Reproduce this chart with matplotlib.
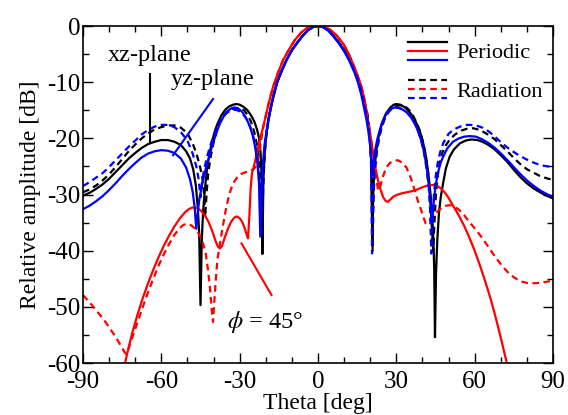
import matplotlib
matplotlib.use("Agg")
import matplotlib.pyplot as plt
from matplotlib.legend_handler import HandlerBase
from matplotlib.lines import Line2D
from matplotlib.ticker import MultipleLocator

plt.rcParams['font.family'] = ['Liberation Serif', 'DejaVu Serif']
plt.rcParams['mathtext.fontset'] = 'stix'
plt.rcParams['axes.unicode_minus'] = False

# (theta [deg], relative amplitude [dB])
xz_periodic = [
    (-90, -30.2), (-87.5, -29.7), (-85, -29.0), (-82.5, -28.2), (-80, -27.2),
    (-77.5, -26.0), (-75, -24.8), (-72.5, -23.6), (-70, -22.6), (-67.5, -21.7),
    (-65, -21.0), (-62.5, -20.6), (-60, -20.3), (-57.5, -20.3), (-55, -20.6),
    (-52.5, -21.2), (-50.5, -22.3), (-49, -23.6), (-47.8, -25.5), (-46.8, -28.3),
    (-46, -32.5), (-45.5, -37), (-45.0, -49.7), (-44.5, -38), (-44, -33),
    (-43.3, -29), (-42.5, -25.5), (-41.5, -22.6), (-40.5, -20.4), (-39.5, -18.7),
    (-38.5, -17.4), (-37, -15.9), (-35.5, -14.9), (-34, -14.3), (-32.5, -14.0),
    (-31.3, -13.9), (-30, -14.0), (-28.5, -14.4), (-27, -15.0), (-25.5, -16.0),
    (-24.3, -17.1), (-23.3, -18.5), (-22.6, -19.9), (-22, -22.5), (-21.6, -26.5),
    (-21.3, -40.6), (-20.9, -27), (-20.4, -22.5), (-19.8, -19.3), (-19, -16.5),
    (-18, -14.2), (-17, -12.2), (-15.7, -10), (-14, -8.0), (-12, -6.0),
    (-10, -4.3), (-8, -3.0), (-6, -1.8), (-4, -0.8), (-2, -0.2), (0, 0),
    (2, -0.2), (4, -0.8), (6, -1.8), (8, -3.0), (10, -4.3), (12, -6.0),
    (14, -8.0), (15.7, -10), (17, -12.2), (18, -14.2), (19, -16.5),
    (19.8, -19.5), (20.3, -23), (20.8, -38.5), (21.2, -29), (21.7, -25),
    (22.4, -22), (23.3, -19.5), (24.5, -17.3), (26, -15.6), (27.5, -14.6),
    (29, -14.0), (30, -13.9), (31.5, -14.0), (33, -14.4), (34.5, -15.0),
    (36, -15.9), (37.5, -17.1), (38.9, -18.6), (40, -20.3), (41, -22.3),
    (42, -25.3), (42.8, -28.5), (43.5, -32), (44.1, -37), (44.5, -43),
    (44.8, -55.4), (45.2, -44), (45.7, -38), (46.3, -33.5), (47, -30.5),
    (47.9, -28), (49, -25.3), (50.4, -23.3), (52, -22.0), (54.3, -20.9),
    (56.5, -20.4), (58.7, -20.2), (61, -20.3), (63, -20.6), (65, -21.1),
    (67.5, -21.9), (70, -23.0), (72.5, -24.2), (75, -25.6), (77.5, -26.9),
    (80, -28.0), (82.5, -28.9), (85, -29.6), (87.5, -30.2), (90, -30.7),
]
xz_radiation = [
    (-90, -29.6), (-87.5, -29.1), (-85, -28.4), (-82.5, -27.5), (-80, -26.4),
    (-77.5, -25.1), (-75, -23.7), (-72.5, -22.3), (-70, -21.1), (-67.5, -20.0),
    (-65, -19.1), (-62.5, -18.4), (-60, -18.0), (-57.5, -17.7), (-55, -17.7),
    (-52.5, -18.1), (-50, -19.1), (-48, -20.9), (-46.5, -22.8), (-45.3, -24.8),
    (-44.3, -27), (-43.6, -30), (-43.2, -34), (-42.7, -30), (-42.1, -26.5),
    (-41.2, -23.5), (-40, -20.8), (-38.5, -18.3), (-37, -16.5), (-35, -15.3),
    (-33, -14.8), (-31.3, -14.6), (-29.8, -14.6), (-28.3, -15.0), (-27, -15.8),
    (-25.7, -17.0), (-24.5, -18.7), (-23.5, -20.8), (-22.8, -23.2), (-22.2, -26.5),
    (-21.7, -31), (-21.4, -37), (-21, -29), (-20.5, -23.5), (-19.9, -20),
    (-19, -16.8), (-18, -14.4), (-17, -12.4), (-15.7, -10.1), (-14, -8.1),
    (-12, -6.0), (-10, -4.3), (-8, -3.0), (-6, -1.8), (-4, -0.8), (-2, -0.2),
    (0, 0), (2, -0.2), (4, -0.8), (6, -1.7), (8, -2.9), (10, -4.1),
    (12, -5.8), (14, -7.7), (15.8, -9.8), (17, -11.8), (18, -13.8),
    (19, -15.8), (19.7, -18.3), (20.2, -21.5), (20.6, -26), (20.9, -40),
    (21.3, -30), (21.8, -25.5), (22.5, -22.5), (23.3, -20.2), (24.3, -18.2),
    (25.5, -16.6), (27, -15.3), (28.5, -14.6), (30.2, -14.2), (31.9, -14.1),
    (33.3, -14.3), (34.8, -14.9), (36.3, -15.9), (37.8, -17.2), (39.2, -18.9),
    (40.3, -20.9), (41.3, -23.3), (42.2, -26.3), (42.9, -30), (43.5, -35),
    (44.1, -40), (44.6, -35), (45.1, -30.5), (45.8, -26.8), (46.6, -24.3),
    (47.5, -22.7), (49, -21.2), (50.5, -20.2), (52.5, -19.3), (55, -18.6),
    (57, -18.3), (59.4, -18.2), (62, -18.5), (65, -19.3), (67.5, -20.1),
    (70, -21.2), (72.5, -22.3), (75, -23.5), (77.5, -24.6), (80, -25.5),
    (82.5, -26.1), (85, -26.7), (87.5, -27.1), (90, -27.4),
]
yz_periodic = [
    (-90, -32.6), (-87.5, -32.0), (-85, -31.2), (-82.5, -30.3), (-80, -29.2),
    (-77.5, -28.0), (-75, -26.7), (-72.5, -25.5), (-70, -24.4), (-67.5, -23.4),
    (-65, -22.7), (-62.5, -22.3), (-60, -22.1), (-57.5, -22.2), (-55, -22.6),
    (-52.5, -23.6), (-50.5, -25.2), (-49, -27.3), (-48, -29.5), (-47.3, -32),
    (-46.6, -36.1), (-46.1, -33.5), (-45.5, -31), (-44.5, -28.5), (-43.3, -26),
    (-42, -23.8), (-40.5, -21.3), (-39, -19.1), (-37.5, -17.3), (-36, -16.0),
    (-34.5, -15.1), (-33, -14.6), (-32, -14.5), (-30.5, -14.7), (-29, -15.3),
    (-27.5, -16.4), (-26, -18.0), (-25, -19.5), (-24, -21.7), (-23.2, -24.5),
    (-22.6, -28), (-22.1, -37.5), (-21.6, -29), (-21.1, -24.5), (-20.5, -21.2),
    (-19.8, -19.0), (-19, -16.8), (-18, -14.4), (-17, -12.4), (-15.6, -10),
    (-14, -8.1), (-12, -6.0), (-10, -4.3), (-8, -3.0), (-6, -1.8), (-4, -0.8),
    (-2, -0.2), (0, 0), (2, -0.2), (4, -0.8), (6, -1.9), (8, -3.1),
    (10, -4.5), (12, -6.2), (14, -8.3), (15.4, -10.2), (16.6, -12.3),
    (17.6, -14.5), (18.5, -16.5), (19.3, -18.8), (19.9, -21), (20.4, -23.8),
    (20.8, -26.5), (21.3, -24), (22, -21.8), (22.8, -20), (23.8, -18.3),
    (24.9, -16.8), (26.3, -15.5), (27.8, -14.8), (29.4, -14.5), (31, -14.6),
    (32.5, -14.9), (34, -15.4), (35.5, -16.2), (37, -17.3), (38.4, -18.8),
    (39.6, -20.5), (40.7, -22.6), (41.7, -25.5), (42.6, -29), (43.2, -32),
    (43.7, -35.2), (44.3, -31.5), (45, -28.5), (46, -26), (47, -24.3),
    (47.9, -23.3), (49.5, -21.8), (51.7, -20.6), (54, -20.0), (56, -19.7),
    (58.1, -19.6), (60.5, -19.7), (63, -20.2), (65.5, -20.9), (68, -21.8),
    (70.5, -22.9), (73, -24.1), (75.5, -25.4), (78, -26.6), (80.5, -27.7),
    (83, -28.6), (85.5, -29.4), (88, -30.0), (90, -30.4),
]
yz_radiation = [
    (-90, -28.5), (-87.5, -27.8), (-85, -27.0), (-82.5, -26.2), (-80, -25.1),
    (-77.5, -23.9), (-75, -22.7), (-72.5, -21.5), (-70, -20.4), (-67.5, -19.3),
    (-65, -18.5), (-62.5, -17.9), (-60, -17.6), (-57.5, -17.6), (-55, -18.0),
    (-52.5, -18.9), (-50, -20.4), (-48, -22.7), (-46.6, -25), (-45.7, -27.3),
    (-45, -30.5), (-44.4, -27.8), (-43.6, -25.5), (-42.5, -23.3), (-41.2, -21.2),
    (-39.7, -19.2), (-38, -17.4), (-36.3, -16.1), (-34.5, -15.3), (-32.5, -14.9),
    (-30.8, -15.0), (-29, -15.5), (-27.5, -16.5), (-26, -17.9), (-25, -19.2),
    (-24, -21.2), (-23.2, -23.8), (-22.5, -27.5), (-22.1, -31), (-21.8, -37),
    (-21.4, -30), (-21, -25.5), (-20.5, -22), (-19.8, -19.3), (-19, -16.9),
    (-18, -14.5), (-17, -12.4), (-15.6, -10), (-14, -8.1), (-12, -6.0),
    (-10, -4.3), (-8, -3.0), (-6, -1.8), (-4, -0.8), (-2, -0.2), (0, 0),
    (2, -0.2), (4, -0.8), (6, -1.8), (8, -3.0), (10, -4.3), (12, -6.0),
    (14, -8.0), (15.6, -10), (17, -12.3), (18, -14.4), (18.9, -16.5),
    (19.6, -19), (20.1, -22), (20.4, -26), (20.7, -40.5), (21.1, -31),
    (21.6, -26.5), (22.3, -23), (23.2, -20.2), (24.3, -18), (25.6, -16.3),
    (27, -15.2), (28.4, -14.7), (29.8, -14.5), (31.2, -14.6), (32.5, -14.8),
    (34, -15.3), (35.5, -16.2), (37, -17.3), (38.4, -18.8), (39.6, -20.5),
    (40.7, -22.8), (41.6, -25.5), (42.4, -28.8), (42.9, -32.5), (43.4, -40.5),
    (43.9, -34), (44.4, -30), (45.1, -26.7), (45.8, -24.5), (46.7, -22.6),
    (48, -20.8), (50, -19.2), (52, -18.4), (54.5, -17.9), (56.5, -17.6),
    (58.1, -17.6), (60.5, -17.7), (63, -18.1), (65.5, -18.8), (68, -19.8),
    (70.5, -20.9), (73, -21.8), (75.5, -22.6), (78, -23.3), (80.5, -23.9),
    (83, -24.4), (85.5, -24.8), (88, -25.0), (90, -25.1),
]
phi45_periodic = [
    (-74.2, -61), (-73.8, -59.8), (-72.5, -57.2), (-71, -54.4), (-69, -51.2),
    (-67, -48.3), (-65, -45.7), (-63, -43.3), (-61, -41.1), (-59, -39.1),
    (-57, -37.3), (-55, -35.7), (-53, -34.3), (-51, -33.2), (-49.5, -32.6),
    (-48, -32.3), (-46.5, -32.4), (-45, -32.8), (-43.5, -33.6), (-42, -34.8),
    (-40.5, -36.5), (-39.3, -38.2), (-38.3, -39.3), (-37.6, -39.6), (-36.8, -39.2),
    (-35.8, -37.8), (-34.5, -36.1), (-33.2, -34.8), (-32, -34.1), (-31.1, -33.9),
    (-30, -34.2), (-29, -34.9), (-28, -36.1), (-27.2, -37.3), (-26.8, -37.8),
    (-26.3, -34), (-25.8, -29), (-25.3, -26.3), (-24.2, -24.3), (-23.2, -22.2),
    (-22.3, -20.3), (-21.3, -18.5), (-20.4, -16.8), (-18.8, -13.6), (-17.2, -10.8),
    (-15.3, -8.3), (-13.4, -6.1), (-11, -4.1), (-8.9, -2.5), (-6.5, -1.2),
    (-4.4, -0.4), (-2, -0.05), (0, 0), (2, -0.1), (4.5, -0.6), (7, -1.6),
    (9.6, -3.1), (11.5, -4.7), (13.4, -6.7), (15, -8.6), (16.6, -10.8),
    (18, -13.5), (19.1, -16.8), (20.2, -19.8), (21.1, -22.7), (22, -25.3),
    (23, -27.5), (24, -29.2), (25, -30.5), (26, -31.2), (26.8, -31.3),
    (27.7, -30.9), (28.8, -30.4), (30, -30.1), (32, -29.8), (34, -29.6),
    (36, -29.4), (38, -29.1), (40, -28.7), (42, -28.4), (44, -28.3),
    (45.5, -28.4), (47, -28.9), (48.5, -29.6), (50, -30.6), (52, -32.2),
    (54, -33.8), (56, -35.6), (58, -37.7), (60, -40.0), (62, -42.6),
    (64, -45.4), (66, -48.4), (68, -51.8), (70, -55.5), (72.2, -59.8),
    (72.5, -61),
]
phi45_radiation = [
    (-90, -47.9), (-86, -50.0), (-82, -52.3), (-78, -55.0), (-75.5, -56.9),
    (-74.2, -58.0), (-73.5, -58.4), (-72.5, -57.4), (-71, -55.3), (-69, -52.6),
    (-67, -49.9), (-65, -47.3), (-63, -44.9), (-61, -42.6), (-59, -40.6),
    (-57, -38.8), (-55, -37.2), (-53, -36.0), (-51.5, -35.4), (-50, -35.2),
    (-48.5, -35.5), (-47, -36.1), (-45.5, -37.1), (-44, -38.7), (-43, -40.5),
    (-42.1, -43.5), (-41.3, -47), (-40.7, -50.5), (-40.2, -52.7), (-39.7, -49),
    (-39.2, -45.5), (-38.5, -41.5), (-37.5, -38.6), (-36.5, -35.8), (-35.1, -32.2),
    (-33.8, -29.7), (-32.5, -28.0), (-31, -27.0), (-29.3, -26.3), (-27.5, -26.0),
    (-26, -25.8), (-24.5, -25.4), (-23.5, -24.8), (-22.8, -23.5), (-22, -21),
    (-21.2, -18.6), (-20.4, -16.8), (-18.8, -13.6), (-17.2, -10.8), (-15.3, -8.3),
    (-13.4, -6.1), (-11, -4.1), (-8.9, -2.5), (-6.5, -1.2), (-4.4, -0.4),
    (-2, -0.05), (0, 0), (2, -0.1), (4.5, -0.6), (7, -1.6), (9.6, -3.1),
    (11.5, -4.7), (13.4, -6.7), (15, -8.6), (16.6, -10.8), (18, -13.5),
    (19.1, -16.8), (20.2, -19.8), (21.1, -22.7), (22.2, -26.5), (23, -29.3),
    (23.8, -28.6), (24.9, -26.8), (26, -25.3), (27.5, -24.4), (29, -24.0),
    (30.6, -23.9), (32.2, -24.3), (33.9, -25.2), (35.5, -27.0), (37, -29.2),
    (38.3, -31.2), (39.6, -32.9), (40.5, -34.2), (41.2, -35.1), (42, -35.2),
    (43, -34.6), (44.5, -33.7), (46, -32.9), (47.5, -32.3), (49, -32.0),
    (50.4, -31.9), (52, -32.1), (54, -32.7), (56, -33.7), (58, -34.9),
    (60.5, -36.3), (63, -37.8), (65.5, -39.5), (68, -41.2), (70.5, -42.7),
    (73, -44.0), (75.5, -44.9), (78, -45.5), (80.5, -45.8), (83, -45.8),
    (85.5, -45.7), (88, -45.5), (90, -45.3),
]

legend_labels = ['Periodic', 'Radiation']
x_ticks = [-90, -60, -30, 0, 30, 60, 90]
y_ticks = [0, -10, -20, -30, -40, -50, -60]

DASH = (0, (3, 2))


class StackedLines(HandlerBase):
    """legend handle: a tuple of lines drawn one under the other"""
    def create_artists(self, legend, orig_handle, xdescent, ydescent,
                       width, height, fontsize, trans):
        artists = []
        n = len(orig_handle)
        for i, src in enumerate(orig_handle):
            y = height - ydescent - i * height / (n - 1)
            line = Line2D([-xdescent, width - xdescent], [y, y])
            line.update_from(src)
            line.set_transform(trans)
            artists.append(line)
        return artists


def draw(ax, pts, color, ls):
    th, db = zip(*pts)
    return ax.plot(th, db, color=color, ls=ls, lw=1.6)[0]


fig = plt.figure(figsize=(5.68, 4.15), dpi=100)
ax = fig.add_axes([0.1461, 0.1253, 0.8275, 0.812])

k_s = draw(ax, xz_periodic, 'black', '-')
k_d = draw(ax, xz_radiation, 'black', DASH)
r_s = draw(ax, phi45_periodic, 'red', '-')
r_d = draw(ax, phi45_radiation, 'red', DASH)
b_s = draw(ax, yz_periodic, 'blue', '-')
b_d = draw(ax, yz_radiation, 'blue', DASH)

ax.set_xlim(-90, 90)
ax.set_ylim(-60, 0)
ax.set_xticks(x_ticks)
ax.set_yticks(y_ticks)
ax.xaxis.set_minor_locator(MultipleLocator(10))
ax.yaxis.set_minor_locator(MultipleLocator(5))
ax.tick_params(which='both', direction='in', top=True, right=True, width=1.0)
ax.tick_params(which='major', length=7, labelsize=18)
ax.tick_params(which='minor', length=4)
ax.tick_params(axis='x', pad=6)
ax.tick_params(axis='y', pad=2)
for sp in ax.spines.values():
    sp.set_linewidth(1.2)

ax.set_xlabel('Theta [deg]', fontsize=17, labelpad=-0.5)
ax.set_ylabel('Relative amplitude [dB]', fontsize=17, labelpad=4)

# annotations
ax.text(-64.5, -6.3, 'xz-plane', fontsize=17.5, ha='center', va='baseline')
ax.plot([-64.5, -64.5], [-8.6, -20.9], color='black', lw=1.5)
ax.text(-40.5, -10.5, 'yz-plane', fontsize=17.5, ha='center', va='baseline')
ax.plot([-40.2, -55.5], [-13, -23], color='blue', lw=1.5)
ax.text(-35, -53.8, r'$\phi$ = 45°', fontsize=17.5, ha='left', va='baseline')
ax.plot([-29.3, -17.8], [-38.7, -47.9], color='red', lw=1.5)

ax.legend([(k_s, r_s, b_s), (k_d, r_d, b_d)], legend_labels,
          handler_map={tuple: StackedLines()}, frameon=False, fontsize=16,
          loc='upper left', bbox_to_anchor=(0.6915, 0.953),
          borderpad=0, borderaxespad=0, handlelength=1.75, handleheight=0.86,
          handletextpad=0.44, labelspacing=0.75)

fig.savefig('out.png', dpi=100)
